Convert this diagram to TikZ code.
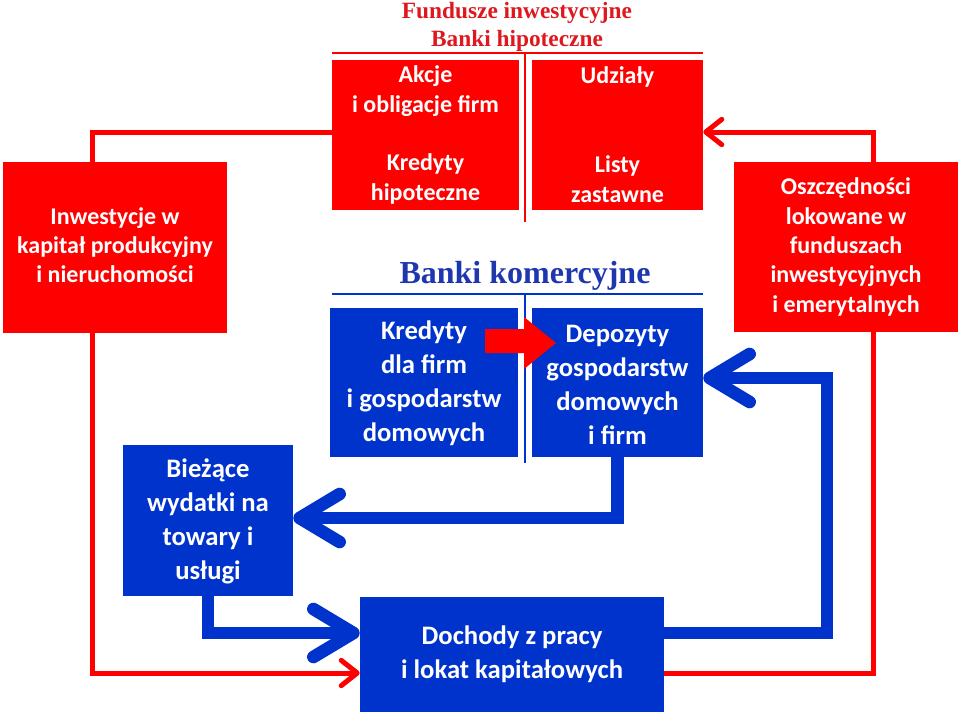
\documentclass[tikz,border=0pt]{standalone}
\usepackage{fontspec}
\setmainfont{Carlito}
\newfontfamily\tnr{Liberation Serif}
\usetikzlibrary{arrows.meta,calc}
\definecolor{rd}{RGB}{255,0,0}
\definecolor{bl}{RGB}{0,51,204}
\definecolor{tred}{RGB}{222,24,30}
\definecolor{tblue}{RGB}{30,55,175}
\tikzset{
  rbox/.style={fill=rd,draw=none,inner sep=0pt},
  bbox/.style={fill=bl,draw=none,inner sep=0pt},
  smalltxt/.style={text=white,align=center,font=\fontsize{18}{22}\selectfont\bfseries,inner sep=0pt},
  bigtxt/.style={text=white,align=center,font=\fontsize{20}{25.5}\selectfont\bfseries,inner sep=0pt},
  redline/.style={draw=rd,line width=3.75pt},
  redarrow/.style={redline,-{Straight Barb[length=12pt,width=19pt,round]}},
  blueline/.style={draw=bl,line width=9.5pt},
  bluearrow/.style={blueline,-{Straight Barb[length=30pt,width=36pt,round]}},
}
\begin{document}
\begin{tikzpicture}[x=0.75pt,y=-0.75pt]
\useasboundingbox (0,0) rectangle (960,714);
% titles
\node[text=tred,align=center,font=\tnr\fontsize{17.5}{21}\selectfont\bfseries,inner sep=0pt] (tfund) at (517,27) {Fundusze inwestycyjne\\Banki hipoteczne};
\node[text=tblue,font=\tnr\fontsize{24}{29}\selectfont\bfseries,inner sep=0pt] (tbank) at (525,276) {Banki komercyjne};
% separators
\coordinate (rl1) at (332,53);
\coordinate (rl2) at (703,53);
\draw[draw=rd,line width=2.2pt] (rl1) -- (rl2);
\coordinate (rv1) at (525,53);
\coordinate (rv2) at (525,222);
\draw[draw=rd,line width=2.2pt] (rv1) -- (rv2);
\coordinate (bl1) at (332,294);
\coordinate (bl2) at (703,294);
\draw[draw=bl,line width=2.2pt] (bl1) -- (bl2);
\coordinate (bv1) at (525,294);
\coordinate (bv2) at (525,463);
\draw[draw=bl,line width=2.2pt] (bv1) -- (bv2);
% red boxes
\node[rbox,minimum width=168pt,minimum height=128.25pt] (inw) at (115,247.5) {};
\node[smalltxt] (inwT) at (115,245) {Inwestycje w\\kapitał produkcyjny\\i nieruchomości};
\node[rbox,minimum width=140.25pt,minimum height=56.25pt] (akc) at (425.5,97.5) {};
\node[smalltxt] (akcT) at (425.5,91) {Akcje\\i obligacje firm};
\node[rbox,minimum width=140.25pt,minimum height=56.25pt] (kh) at (425.5,172.5) {};
\node[smalltxt] (khT) at (425.5,179) {Kredyty\\hipoteczne};
\node[rbox,minimum width=128.25pt,minimum height=56.25pt] (udz) at (617.5,97.5) {};
\node[smalltxt] (udzT) at (617.5,77) {Udziały};
\node[rbox,minimum width=128.25pt,minimum height=56.25pt] (lz) at (617.5,172.5) {};
\node[smalltxt] (lzT) at (617.5,179) {Listy\\zastawne};
\node[rbox,minimum width=168pt,minimum height=127.5pt] (osz) at (846,247) {};
\node[smalltxt] (oszT) at (846,247) {Oszczędności\\lokowane w\\funduszach\\inwestycyjnych\\i emerytalnych};
% blue boxes
\node[bbox,minimum width=141pt,minimum height=111.75pt] (kdf) at (424,382.5) {};
\node[bigtxt] (kdfT) at (424,383.5) {Kredyty\\dla firm\\i gospodarstw\\domowych};
\node[bbox,minimum width=128.25pt,minimum height=111.75pt] (dep) at (617.5,382.5) {};
\node[bigtxt] (depT) at (617.5,385) {Depozyty\\gospodarstw\\domowych\\i firm};
\node[bbox,minimum width=127.5pt,minimum height=113.25pt] (bie) at (208,520.5) {};
\node[bigtxt] (bieT) at (208,521) {Bieżące\\wydatki na\\towary i\\usługi};
\node[bbox,minimum width=228pt,minimum height=86.25pt] (doch) at (512,654.5) {};
\node[bigtxt] (dochT) at (512,654) {Dochody z pracy\\i lokat kapitałowych};
% red block arrow between bank boxes
\fill[rd] (485,329) -- (524,329) -- (524,317) -- (556,343) -- (524,369) -- (524,353) -- (485,353) -- cycle;
% red connectors
\coordinate (cL) at (92,132);
\coordinate (cR) at (873,132);
\coordinate (dY) at (0,673);
\draw[redline] (akc.west |- cL) -| (inw.north -| cL);
\draw[redarrow] (inw.south -| cL) |- (doch.west |- dY);
\draw[redarrow] (osz.north -| cR) |- (udz.east |- cR);
\draw[redline] (doch.east |- dY) -| (osz.south -| cR);
% blue connectors
\coordinate (y518) at (0,518);
\coordinate (y633) at (0,633);
\coordinate (y378) at (0,378);
\coordinate (x827) at (827,0);
\draw[bluearrow] (dep.south) |- (bie.east |- y518);
\draw[bluearrow] (bie.south) |- (doch.west |- y633);
\draw[bluearrow] (doch.east |- y633) -| (x827 |- y378) -- (dep.east |- y378);
\end{tikzpicture}
\end{document}
